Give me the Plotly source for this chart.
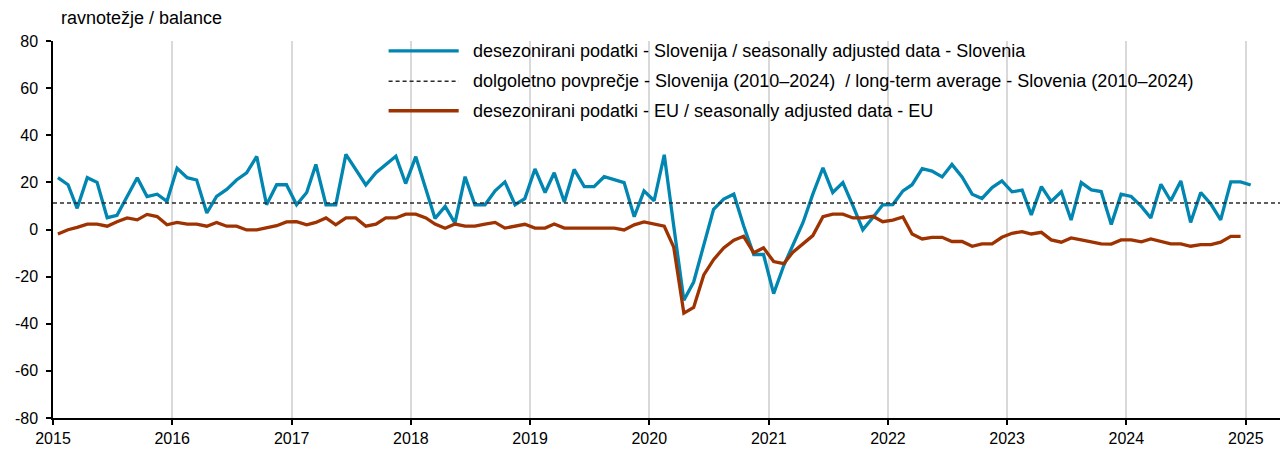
import pandas as pd
import plotly.graph_objects as go

# Monthly data, Jan 2015 - Jan 2025 (Slovenia), Jan 2015 - Dec 2024 (EU)
slovenia = [
    22, 19, 9, 22, 20, 5, 6, 14, 22, 14, 15, 12,            # 2015
    26, 22, 21, 7, 14, 17, 21, 24, 31, 10.5, 19, 19,        # 2016
    10.5, 15.7, 27.6, 10.5, 10.5, 31.9, 25.5, 18.9, 24.1, 27.6, 31.1, 19.5,  # 2017
    30.9, 17.1, 4.7, 9.8, 2.7, 22.4, 10.5, 10.5, 16.4, 20.2, 10.5, 13.1,     # 2018
    25.7, 15.7, 24.1, 11.7, 25.5, 18.2, 18.2, 22.4, 21, 19.9, 5.4, 16.4,     # 2019
    12.2, 31.7, 1.5, -30, -22.3, -6.8, 8.6, 12.9, 15, 1.6, -10.6, -10.6,     # 2020
    -27.2, -15.3, -6.8, 3, 15, 26.2, 15.7, 19.9, 10, -0.1, 5.1, 10.5,        # 2021
    10.6, 16.4, 19, 25.8, 24.8, 22.3, 27.6, 22.3, 15, 13.2, 17.8, 20.6,      # 2022
    16, 16.7, 6.2, 18.2, 11.9, 16, 4, 19.9, 16.8, 16.1, 2.1, 15,             # 2023
    14, 9.8, 4.9, 19.2, 12.2, 20.6, 3, 15.7, 10.8, 4.1, 20.2, 20.2,          # 2024
    18.9,                                                                    # 2025
]
eu = [
    -1.9, -0.1, 0.9, 2.3, 2.3, 1.4, 3.3, 4.9, 4.1, 6.4, 5.5, 2.0,            # 2015
    3.0, 2.3, 2.3, 1.4, 3.0, 1.4, 1.4, -0.2, -0.2, 0.6, 1.6, 3.2,            # 2016
    3.3, 2.0, 3.0, 4.9, 2.0, 4.9, 4.9, 1.4, 2.3, 4.9, 4.9, 6.5,              # 2017
    6.5, 4.9, 2.3, 0.5, 2.3, 1.4, 1.4, 2.3, 3.0, 0.6, 1.5, 2.2,              # 2018
    0.6, 0.6, 2.3, 0.6, 0.6, 0.6, 0.6, 0.6, 0.6, -0.2, 2.0, 3.2,             # 2019
    2.3, 1.4, -7.5, -35.5, -33.1, -19.3, -12.8, -7.8, -4.5, -2.9, -9.9, -7.8,  # 2020
    -13.6, -14.5, -9.6, -6.1, -2.6, 5.4, 6.5, 6.5, 4.9, 4.9, 5.6, 3.3,       # 2021
    4.0, 5.3, -1.9, -4.0, -3.3, -3.3, -5.1, -5.1, -7.1, -6.1, -6.1, -3.3,    # 2022
    -1.6, -0.9, -1.9, -1.2, -4.4, -5.4, -3.6, -4.4, -5.4, -6.1, -6.2, -4.4,  # 2023
    -4.4, -5.2, -4.0, -5.0, -6.1, -6.1, -7.1, -6.4, -6.4, -5.4, -2.9, -2.9,  # 2024
]
long_term_avg = 11.2

y_ticks = [-80, -60, -40, -20, 0, 20, 40, 60, 80]
y_ticklabels = [str(v) for v in y_ticks]

months_slo = pd.date_range("2015-01-01", periods=len(slovenia), freq="MS") + pd.Timedelta(days=15)
months_eu = pd.date_range("2015-01-01", periods=len(eu), freq="MS") + pd.Timedelta(days=15)

legend_labels = [
    "desezonirani podatki - Slovenija / seasonally adjusted data - Slovenia",
    "dolgoletno povprečje - Slovenija (2010–2024)  / long-term average - Slovenia (2010–2024)",
    "desezonirani podatki - EU / seasonally adjusted data - EU",
]
y_title = "ravnotežje / balance"

BLUE = "#0086B0"
BROWN = "#9E3200"
DASH = "#2a2a2a"
FONT = "Liberation Sans, Arial, sans-serif"

fig = go.Figure()
fig.add_trace(go.Scatter(x=months_slo, y=slovenia, mode="lines",
                         line=dict(color=BLUE, width=3.3), name=legend_labels[0]))
fig.add_trace(go.Scatter(x=months_eu, y=eu, mode="lines",
                         line=dict(color=BROWN, width=3.3), name=legend_labels[2]))

# long-term average
fig.add_shape(type="line", xref="paper", x0=0, x1=1, yref="y", y0=long_term_avg, y1=long_term_avg,
              line=dict(color=DASH, width=1.5, dash="4px,3px"), layer="above")

# custom legend
leg_y = [0.974, 0.893, 0.815]
leg_styles = [dict(color=BLUE, width=3.3), dict(color=DASH, width=1.5, dash="4px,3px"),
              dict(color=BROWN, width=3.3)]
for yy, st, lab in zip(leg_y, leg_styles, legend_labels):
    fig.add_shape(type="line", xref="paper", yref="paper", x0=0.2724, x1=0.3293, y0=yy, y1=yy, line=st)
    fig.add_annotation(xref="paper", yref="paper", x=0.3390, y=yy, text=lab, showarrow=False,
                       xanchor="left", yanchor="middle", font=dict(size=18, color="#000000", family=FONT))

fig.add_annotation(xref="paper", yref="paper", x=0, y=1, xshift=6, yshift=23, text=y_title,
                   showarrow=False, xanchor="left", yanchor="middle",
                   font=dict(size=18, color="#000000", family=FONT))

# page body has an 8px margin, so the figure is sized to fit the 1288x450 window
fig.update_layout(
    width=1280, height=442,
    margin=dict(l=45, r=3, t=33, b=30),
    paper_bgcolor="white", plot_bgcolor="white",
    showlegend=False,
    font=dict(family=FONT, size=16, color="#000000"),
)
fig.update_xaxes(
    type="date", range=["2015-01-01", "2025-05-01"],
    tick0="2015-01-01", dtick="M12", tickformat="%Y",
    showgrid=True, gridcolor="#D9D9D9", gridwidth=2,
    showline=True, linecolor="#000000", linewidth=2,
    ticks="outside", ticklen=5, tickcolor="#000000", tickwidth=1.5,
    tickfont=dict(size=16), zeroline=False,
)
fig.update_yaxes(
    range=[-80, 80], tickmode="array", tickvals=y_ticks, ticktext=y_ticklabels,
    showgrid=False, zeroline=False,
    showline=True, linecolor="#000000", linewidth=1.5,
    ticks="outside", ticklen=5, tickcolor="#000000", tickwidth=1.5,
    tickfont=dict(size=16), ticklabelstandoff=5,
)

fig.write_html("out.html")
